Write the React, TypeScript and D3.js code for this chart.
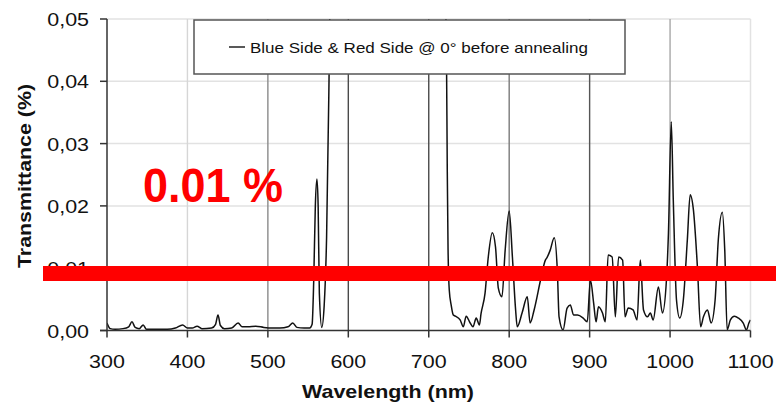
import React from 'react';
import * as d3 from 'd3';

// spectrum (wavelength in nm, transmittance in %)
const wavelength = [
	300, 304, 310, 320, 327, 331, 335, 340, 345, 349, 360, 375, 385, 394, 400, 406, 412, 418, 430, 435,
	438, 441, 446, 455, 463, 468, 475, 485, 495, 505, 515, 525, 531, 536, 545, 552, 555, 557, 559, 561,
	562.5, 564, 567, 570, 573, 576, 578, 590, 620, 650, 690, 715, 720, 722, 723, 724, 725.5, 728, 730.5,
	733, 739, 743, 746.5, 751.5, 755, 759, 763, 765, 770, 774, 779, 783, 786.5, 791, 795, 800, 804, 808,
	810, 816, 822.5, 826, 831, 839, 845, 847, 851, 856, 860, 862, 867, 872, 876, 880, 885, 892, 897,
	901, 905, 908, 911, 916, 919.5, 923, 928, 932, 936, 941, 944, 948, 954, 959, 963, 967, 972, 975.5,
	979, 985.5, 990.5, 995.5, 998, 1001.5, 1004, 1008, 1012, 1016.5, 1021.5, 1025, 1029, 1034, 1038,
	1041.5, 1046.5, 1051, 1056, 1060, 1065, 1068, 1071, 1075, 1080, 1085, 1091, 1095, 1098, 1100
];
const transmittance = [
	0.0012, 0.0003, 0.0002, 0.0003, 0.0006, 0.0014, 0.0005, 0.0003, 0.0009, 0.0002, 0.0002, 0.0002, 0.0004, 0.0009, 0.0004, 0.0004, 0.0007, 0.0003, 0.0004, 0.001,
	0.0025, 0.0008, 0.0003, 0.0004, 0.0012, 0.0006, 0.0006, 0.0007, 0.0005, 0.0004, 0.0004, 0.0006, 0.0012, 0.0005, 0.0004, 0.0004, 0.001, 0.008, 0.02, 0.0243,
	0.02, 0.006, 0.0005, 0.004, 0.015, 0.04, 0.06, 0.08, 0.09, 0.1, 0.09, 0.07, 0.056, 0.045, 0.026, 0.013, 0.0065, 0.004, 0.0025,
	0.0023, 0.0017, 0.0006, 0.0023, 0.0012, 0.0006, 0.002, 0.0009, 0.0027, 0.006, 0.0118, 0.0157, 0.0134, 0.0068, 0.0054, 0.0129, 0.0192, 0.0118, 0.0033,
	0.0006, 0.0028, 0.0054, 0.0012, 0.0033, 0.0081, 0.0113, 0.0117, 0.0129, 0.0149, 0.0092, 0.0022, 0.0001, 0.0036, 0.0041, 0.0025, 0.0025, 0.002, 0.0014,
	0.0081, 0.0044, 0.0014, 0.0038, 0.0028, 0.0014, 0.0121, 0.0118, 0.0022, 0.0118, 0.0113, 0.0022, 0.0036, 0.0033, 0.0017, 0.0113, 0.0033, 0.0022, 0.0028,
	0.0017, 0.007, 0.0028, 0.0081, 0.0157, 0.0335, 0.021, 0.0049, 0.002, 0.0049, 0.0146, 0.0218, 0.0194, 0.0102, 0.0006,
	0.0022, 0.0033, 0.0012, 0.0049, 0.0146, 0.019, 0.0129, 0.0001, 0.0017, 0.0023, 0.002, 0.0012, 0.0001, 0.0012, 0.0017
];

const xTicks = [300, 400, 500, 600, 700, 800, 900, 1000, 1100];
const yTicks = [0, 0.01, 0.02, 0.03, 0.04, 0.05];
const seriesName = 'Blue Side & Red Side @ 0° before annealing';
const markerLevel = 0.01;
const markerLabel = '0.01 %';

const W = 776;
const H = 409;
const left = 107;
const right = 750.5;
const top = 19;
const bottom = 330.5;
const font = '"Liberation Sans", Arial, sans-serif';

// vertical grid shades as they look in the scan
const gridShade: Record<number, string> = {
	400: '#d6d6d6',
	500: '#8a8a8a',
	600: '#4a4a4a',
	700: '#4a4a4a',
	800: '#7a7a7a',
	900: '#555555',
	1000: '#a8a8a8'
};

const x = d3.scaleLinear().domain([300, 1100]).range([left, right]);
const y = d3.scaleLinear().domain([0, 0.05]).range([bottom, top]);

const points: [number, number][] = wavelength.map((w, i) => [w, transmittance[i]]);
const line = d3
	.line<[number, number]>()
	.x(d => x(d[0]))
	.y(d => y(d[1]))
	.curve(d3.curveMonotoneX);

const fmtY = (v: number) => d3.format('.2f')(v).replace('.', ',');

export default function App() {
	// the red band sits a little under the 0.01 gridline in the original
	const bandY = y(markerLevel) + 5.2;
	return (
		<svg
			width={W}
			height={H}
			style={{ position: 'absolute', left: 0, top: 0, background: '#fff' }}
			fontFamily={font}
		>
			<defs>
				<clipPath id="plot">
					<rect x={left} y={top} width={right - left} height={bottom - top + 2} />
				</clipPath>
			</defs>
			<rect width={W} height={H} fill="#fff" />

			{/* horizontal grid */}
			{yTicks.slice(1).map(t => (
				<line key={t} x1={left} x2={right} y1={y(t)} y2={y(t)} stroke="#e2e2e2" strokeWidth={1.5} />
			))}
			<line x1={right} x2={right} y1={top} y2={bottom} stroke="#e2e2e2" strokeWidth={1.5} />
			{/* vertical grid */}
			{xTicks.slice(1, -1).map(t => (
				<line key={t} x1={x(t)} x2={x(t)} y1={top} y2={bottom} stroke={gridShade[t]} strokeWidth={1.4} />
			))}

			{/* spectrum */}
			<path d={line(points) || ''} fill="none" stroke="#111" strokeWidth={1.5} clipPath="url(#plot)" />

			{/* legend */}
			<rect x={194} y={20} width={431} height={54} fill="#fff" stroke="#555" strokeWidth={1.5} />
			<line x1={229} x2={245} y1={47} y2={47} stroke="#222" strokeWidth={1.5} />
			<text x={250} y={52.5} fontSize={15} fill="#111" textLength={338} lengthAdjust="spacingAndGlyphs">
				{seriesName}
			</text>

			{/* axes */}
			<line x1={left} x2={left} y1={top} y2={bottom} stroke="#333" strokeWidth={1.5} />
			<line x1={left - 7} x2={right} y1={bottom} y2={bottom} stroke="#333" strokeWidth={1.5} />
			{yTicks.map(t => (
				<g key={t}>
					<line x1={left - 7} x2={left} y1={y(t)} y2={y(t)} stroke="#333" strokeWidth={1.5} />
					<g transform={`translate(${left - 18},${y(t) + 7}) scale(1.16,1)`}>
						<text textAnchor="end" fontSize={18.5} fill="#111">
							{fmtY(t)}
						</text>
					</g>
				</g>
			))}
			{xTicks.map(t => (
				<g key={t}>
					<line x1={x(t)} x2={x(t)} y1={bottom} y2={bottom + 7} stroke="#333" strokeWidth={1.5} />
					<g transform={`translate(${x(t)},368) scale(1.16,1)`}>
						<text textAnchor="middle" fontSize={18.5} fill="#111">
							{t}
						</text>
					</g>
				</g>
			))}

			{/* axis titles */}
			<text
				x={388}
				y={398}
				textAnchor="middle"
				fontSize={18.5}
				fontWeight="bold"
				fill="#111"
				textLength={172}
				lengthAdjust="spacingAndGlyphs"
			>
				Wavelength (nm)
			</text>
			<text
				transform="translate(31,176) rotate(-90)"
				textAnchor="middle"
				fontSize={18}
				fontWeight="bold"
				fill="#111"
				textLength={184}
				lengthAdjust="spacingAndGlyphs"
			>
				Transmittance (%)
			</text>

			{/* red marker */}
			<line x1={43} x2={W} y1={bandY} y2={bandY} stroke="#ff0000" strokeWidth={15} />
			<text
				x={143}
				y={202}
				fontSize={48}
				fontWeight="bold"
				fill="#ff0000"
				textLength={140}
				lengthAdjust="spacingAndGlyphs"
			>
				{markerLabel}
			</text>
		</svg>
	);
}
